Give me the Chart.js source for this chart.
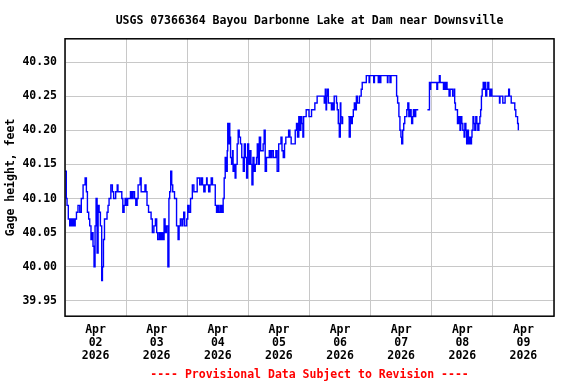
<!DOCTYPE html>
<html>
<head>
<meta charset="utf-8">
<script src="https://cdn.jsdelivr.net/npm/chart.js@4/dist/chart.umd.min.js"></script>
<style>
  html, body { margin: 0; padding: 0; background: #fff; }
  canvas { display: block; }
</style>
</head>
<body>
<canvas id="gage" width="576" height="384"></canvas>
<script>
// hours since Apr 02 2026 00:00, gage height in feet (null = missing record)
const hours = [
  0.0, 0.5, 0.8, 1.3, 1.85, 2.3, 2.7, 3.2, 3.6, 4.0, 4.5, 5.1, 5.8, 6.4, 7.1, 7.9, 8.4, 8.8, 9.3, 9.7,
  10.2, 10.6, 11.0, 11.4, 11.8, 12.2, 12.6, 13.0, 13.4, 13.9, 14.4, 14.7, 15.1, 15.5, 16.0, 16.5, 16.9, 17.3, 18.0, 18.6,
  19.1, 19.9, 20.5, 20.8, 22.2, 22.3, 22.7, 23.2, 23.6, 24.1, 24.6, 25.2, 25.7, 26.2, 26.7, 27.3, 27.8, 28.3, 28.7, 29.1,
  29.5, 29.9, 31.3, 31.4, 31.8, 32.2, 32.8, 33.3, 33.8, 34.3, 34.9, 35.5, 36.0, 36.4, 37.0, 37.5, 38.0, 38.5, 38.9, 39.3,
  39.8, 40.4, 40.8, 41.1, 41.5, 41.9, 42.3, 43.0, 43.5, 43.8, 44.4, 44.8, 45.3, 45.9, 46.3, 46.6, 47.0, 47.6, 47.8, 48.2,
  48.7, 49.3, 50.0, 50.6, 51.1, 51.6, 51.9, 52.4, 52.9, 53.5, 54.0, 54.5, 55.0, 55.6, 55.8, 56.4, 56.9, 57.4, 57.9, 58.4,
  59.0, 59.5, 60.0, 60.5, 61.1, 61.6, 62.1, 62.5, 62.9, 63.2, 63.7, 63.9, 64.2, 64.5, 64.7, 65.0, 65.4, 65.8, 66.0, 66.4,
  66.8, 67.1, 67.6, 68.0, 68.4, 68.9, 69.4, 70.0, 70.4, 70.8, 71.3, 71.7, 72.1, 72.6, 73.0, 73.4, 73.8, 74.2, 74.7, 75.2,
  75.5, 75.9, 76.3, 76.8, 77.3, 77.8, 78.2, 78.6, 79.1, 79.7, 80.2, 80.7, 81.2, 81.8, 82.3, 82.8, 83.3, 83.9, 84.4, 84.8,
  85.2, 85.7, 86.2, 86.7, 87.3, 87.8, 88.3, 88.8, 89.4, 89.9, 90.4, 90.9, 91.3, 91.8, 92.2, 92.6, 93.0, 93.4, 93.7, 94.2,
  94.7, 95.2, 95.8, 96.3, 96.8, 97.6, 98.1, 98.7, 99.0, 100.1, 101.4, 101.8, 102.2, 102.5, 102.7, 103.1, 103.4, 103.8, 104.2, 104.6,
  105.0, 105.3, 105.7, 106.2, 106.6, 106.9, 107.3, 107.7, 108.1, 108.3, 108.7, 109.0, 110.0, 111.2, 111.6, 112.0, 112.4, 112.8, 113.2, 113.6,
  114.0, 114.4, 114.8, 115.2, 115.6, 116.0, 116.3, 116.7, 117.8, 118.3, 119.1, 119.4, 119.6, 121.2, 121.5, 123.0, 123.3, 123.7, 124.0, 126.6,
  126.8, 127.6, 128.0, 129.6, 130.2, 130.6, 131.1, 131.5, 131.9, 132.2, 132.6, 133.0, 133.4, 133.8, 134.2, 134.6, 135.0, 135.5, 135.9, 136.1,
  136.5, 136.8, 137.3, 137.7, 138.7, 140.0, 142.3, 143.1, 143.3, 143.6, 146.0, 146.3, 147.0, 147.3, 148.6, 149.0, 149.4, 149.6, 150.0, 150.8,
  151.2, 152.2, 152.8, 153.0, 153.3, 154.1, 154.5, 154.9, 155.1, 155.4, 155.8, 156.2, 156.7, 157.0, 157.4, 157.7, 158.0, 158.4, 158.8, 159.2,
  159.6, 159.8, 160.2, 160.5, 160.9, 161.3, 161.7, 162.1, 162.5, 162.9, 163.2, 163.5, 163.8, 164.2, 164.4, 164.8, 165.2, 165.6, 166.0, 166.4,
  166.8, 167.2, 167.6, 168.0, 170.6, 170.8, 171.9, 172.4, 172.8, 174.2, 174.5, 175.2, 176.3, 176.6, 177.0, 177.4, 177.7, 178.0
];
const gage = [
  40.14, 40.10, 40.09, 40.07, 40.06, 40.07, 40.06, 40.07, 40.06, 40.07, 40.08, 40.09, 40.08, 40.10, 40.12, 40.13, 40.11, 40.08, 40.07, 40.06,
  40.04, 40.05, 40.03, 40.00, 40.06, 40.10, 40.02, 40.09, 40.08, 40.06, 39.98, 40.00, 40.04, 40.07, 40.07, 40.08, 40.09, 40.10, 40.12, 40.11,
  40.10, 40.11, 40.12, 40.11, 40.11, 40.10, 40.08, 40.09, 40.10, 40.09, 40.10, 40.10, 40.11, 40.10, 40.11, 40.10, 40.09, 40.10, 40.12, 40.12,
  40.13, 40.11, 40.11, 40.12, 40.11, 40.09, 40.08, 40.08, 40.07, 40.05, 40.06, 40.07, 40.05, 40.04, 40.05, 40.04, 40.05, 40.04, 40.07, 40.05,
  40.06, 40.00, 40.10, 40.11, 40.14, 40.12, 40.11, 40.10, 40.10, 40.06, 40.04, 40.06, 40.07, 40.06, 40.07, 40.08, 40.06, 40.06, 40.07, 40.09,
  40.08, 40.10, 40.12, 40.11, 40.11, 40.11, 40.13, 40.13, 40.12, 40.13, 40.12, 40.11, 40.12, 40.13, 40.12, 40.11, 40.12, 40.13, 40.12, 40.12,
  40.09, 40.08, 40.09, 40.08, 40.09, 40.08, 40.10, 40.13, 40.16, 40.14, 40.17, 40.21, 40.18, 40.21, 40.19, 40.16, 40.15, 40.17, 40.14, 40.15,
  40.13, 40.15, 40.18, 40.20, 40.19, 40.18, 40.16, 40.14, 40.18, 40.16, 40.13, 40.18, 40.15, 40.17, 40.15, 40.12, 40.16, 40.14, 40.15, 40.16,
  40.18, 40.15, 40.19, 40.17, 40.17, 40.18, 40.20, 40.14, 40.16, 40.16, 40.17, 40.16, 40.17, 40.16, 40.16, 40.17, 40.14, 40.18, 40.18, 40.19,
  40.17, 40.16, 40.18, 40.19, 40.19, 40.20, 40.19, 40.18, 40.18, 40.18, 40.20, 40.21, 40.19, 40.22, 40.20, 40.22, 40.21, 40.19, 40.22, 40.22,
  40.23, 40.23, 40.22, 40.22, 40.23, 40.23, 40.24, 40.24, 40.25, 40.25, 40.25, 40.24, 40.26, 40.23, 40.25, 40.26, 40.24, 40.24, 40.24, 40.23,
  40.24, 40.23, 40.25, 40.25, 40.24, 40.23, 40.21, 40.19, 40.24, 40.22, 40.21, 40.22, null, 40.22, 40.19, 40.22, 40.21, 40.22, 40.23, 40.24,
  40.23, 40.25, 40.24, 40.24, 40.25, 40.25, 40.26, 40.27, 40.27, 40.28, 40.28, 40.27, 40.28, 40.27, 40.28, 40.27, 40.28, 40.27, 40.28, 40.27,
  40.28, 40.27, 40.28, 40.28, 40.25, 40.24, 40.22, 40.20, 40.19, 40.18, 40.20, 40.21, 40.22, 40.22, 40.23, 40.24, 40.22, 40.23, 40.22, 40.21,
  40.22, 40.23, 40.22, 40.23, 40.23, null, 40.23, 40.27, 40.26, 40.27, 40.26, 40.27, 40.28, 40.27, 40.26, 40.27, 40.26, 40.27, 40.26, 40.25,
  40.26, 40.25, 40.26, 40.24, 40.23, 40.21, 40.22, 40.21, 40.20, 40.22, 40.21, 40.20, 40.19, 40.21, 40.20, 40.18, 40.20, 40.18, 40.19, 40.18,
  40.19, 40.20, 40.22, 40.21, 40.20, 40.22, 40.21, 40.20, 40.21, 40.22, 40.23, 40.25, 40.26, 40.27, 40.26, 40.27, 40.25, 40.26, 40.27, 40.26,
  40.25, 40.26, 40.25, 40.25, 40.24, 40.25, 40.24, 40.24, 40.25, 40.26, 40.25, 40.24, 40.24, 40.23, 40.22, 40.22, 40.21, 40.20
];
// axis labels
const dayLabels = ['02', '03', '04', '05', '06', '07', '08', '09'];
const monthLabel = 'Apr';
const yearLabel = '2026';
const yTicks = [39.95, 40.00, 40.05, 40.10, 40.15, 40.20, 40.25, 40.30];

const mono = "'DejaVu Sans Mono', monospace";
const points = hours.map((h, i) => ({ x: h, y: gage[i] }));

//black frame round the plot area
const frame = {
  id: 'frame',
  afterDraw(chart) {
    const a = chart.chartArea;
    const c = chart.ctx;
    c.save();
    c.strokeStyle = '#000';
    c.lineWidth = 1.5;
    c.strokeRect(a.left, a.top, a.right - a.left, a.bottom - a.top);
    c.restore();
  }
};

new Chart(document.getElementById('gage'), {
  type: 'line',
  data: {
    datasets: [{
      data: points,
      borderColor: '#0000ff',
      borderWidth: 1.4,
      pointRadius: 0,
      stepped: true,
      spanGaps: false,
      fill: false
    }]
  },
  options: {
    responsive: false,
    animation: false,
    layout: { padding: { left: 0, right: 22, top: 0, bottom: 0 } },
    plugins: {
      legend: { display: false },
      tooltip: { enabled: false },
      title: {
        display: true,
        text: 'USGS 07366364 Bayou Darbonne Lake at Dam near Downsville',
        fullSize: false,
        color: '#000',
        font: { family: mono, size: 11.5, weight: 'bold', lineHeight: 1.2 },
        padding: { top: 14, bottom: 11 }
      },
      subtitle: {
        display: true,
        position: 'bottom',
        text: '---- Provisional Data Subject to Revision ----',
        fullSize: false,
        color: '#ff0000',
        font: { family: mono, size: 11.5, weight: 'bold', lineHeight: 1.2 },
        padding: { top: 0, bottom: 2 }
      }
    },
    scales: {
      x: {
        type: 'linear',
        min: 0,
        max: 192,
        afterBuildTicks: s => { s.ticks = dayLabels.map((d, i) => ({ value: 12 + 24 * i })); },
        afterFit: s => { s.height = 52; },
        grid: { offset: true, color: '#c8c8c8', lineWidth: 1, drawTicks: false },
        border: { display: false },
        ticks: {
          autoSkip: false,
          maxRotation: 0,
          padding: 7.6,
          color: '#000',
          font: { family: mono, size: 11.5, weight: 'bold', lineHeight: 1.11 },
          callback: (v, i) => [monthLabel, dayLabels[i], yearLabel]
        }
      },
      y: {
        min: 39.9276,
        max: 40.334,
        afterBuildTicks: s => { s.ticks = yTicks.map(v => ({ value: v })); },
        afterFit: s => { s.width = 65; },
        grid: { color: '#c8c8c8', lineWidth: 1, drawTicks: false },
        border: { display: false },
        ticks: {
          padding: 8,
          color: '#000',
          font: { family: mono, size: 11.5, weight: 'bold' },
          callback: v => v.toFixed(2)
        },
        title: {
          display: true,
          text: 'Gage height, feet',
          color: '#000',
          font: { family: mono, size: 11.5, weight: 'bold', lineHeight: 1.2 },
          padding: { top: 4, bottom: 0 }
        }
      }
    }
  },
  plugins: [frame]
});
</script>
</body>
</html>
